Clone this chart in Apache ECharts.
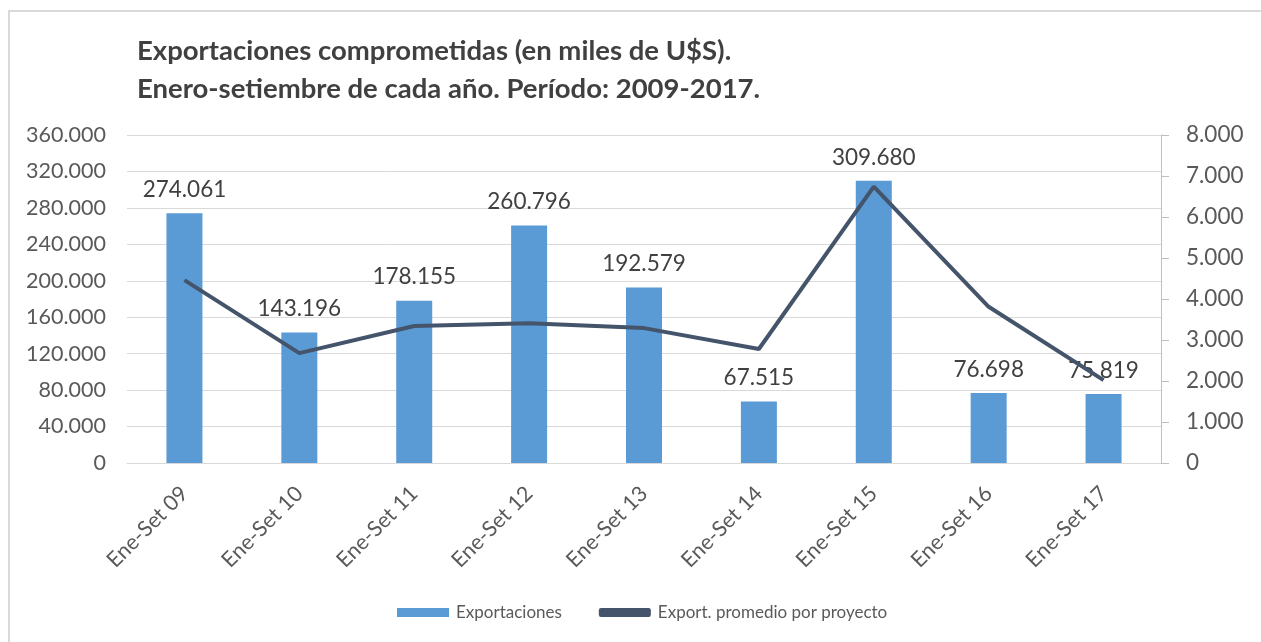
<!DOCTYPE html>
<html>
<head>
<meta charset="utf-8">
<script src="https://cdn.jsdelivr.net/npm/echarts@6/dist/echarts.min.js"></script>
<style>
html,body{margin:0;padding:0;background:#fff;}
#c{width:1261px;height:642px;}
</style>
</head>
<body>
<div id="c"></div>
<script>
var categories = ['Ene-Set 09','Ene-Set 10','Ene-Set 11','Ene-Set 12','Ene-Set 13','Ene-Set 14','Ene-Set 15','Ene-Set 16','Ene-Set 17'];
var exportaciones = [274061, 143196, 178155, 260796, 192579, 67515, 309680, 76698, 75819];
var promedio = [4460, 2680, 3340, 3410, 3290, 2780, 6740, 3810, 2020];
var titleLines = ['Exportaciones comprometidas (en miles de U$S).', 'Enero-setiembre de cada año. Período: 2009-2017.'];
var seriesNames = ['Exportaciones', 'Export. promedio por proyecto'];

function fmt(v){
  return String(Math.round(v)).replace(/\B(?=(\d{3})+(?!\d))/g, '.');
}
var FONT = 'Lato';
var chart = echarts.init(document.getElementById('c'));
chart.setOption({
  animation: false,
  backgroundColor: '#fff',
  textStyle: {fontFamily: FONT},
  graphic: [{
    type: 'polyline', silent: true,
    shape: {points: [[9, 642], [9, 11], [1261, 11]]},
    style: {stroke: '#d9d9d9', lineWidth: 2, fill: null}
  }],
  title: {
    text: titleLines.join('\n'),
    left: 132, top: 27,
    textStyle: {fontFamily: FONT, fontWeight: 'bold', fontSize: 27.5, color: '#404040', lineHeight: 38}
  },
  legend: {
    bottom: 16, left: 392,
    itemGap: 37, itemWidth: 52, itemHeight: 9,
    textStyle: {fontFamily: FONT, fontSize: 17, color: '#595959', padding: [0, 0, 0, 2]},
    data: [
      {name: seriesNames[0], icon: 'rect'},
      {name: seriesNames[1], icon: 'roundRect', itemStyle: {color: '#44546a'}}
    ]
  },
  grid: {left: 127, right: 100, top: 135, bottom: 179},
  xAxis: {
    type: 'category', data: categories,
    axisLine: {lineStyle: {color: '#d9d9d9', width: 1}},
    axisTick: {show: false},
    axisLabel: {rotate: 45, fontSize: 21.5, color: '#595959', margin: 27, fontFamily: FONT, interval: 0}
  },
  yAxis: [{
    type: 'value', min: 0, max: 360000, interval: 40000,
    axisLine: {show: false}, axisTick: {show: false},
    splitLine: {lineStyle: {color: '#d9d9d9'}},
    axisLabel: {fontSize: 21.5, color: '#595959', margin: 21, formatter: fmt, fontFamily: FONT}
  }, {
    type: 'value', min: 0, max: 8000, interval: 1000, position: 'right',
    axisLine: {show: true, lineStyle: {color: '#bfbfbf'}},
    axisTick: {show: true, length: 8, lineStyle: {color: '#bfbfbf'}},
    splitLine: {show: false},
    axisLabel: {fontSize: 22.5, color: '#595959', margin: 25, formatter: fmt, fontFamily: FONT}
  }],
  series: [{
    name: seriesNames[0], type: 'bar', data: exportaciones,
    barWidth: 36,
    itemStyle: {color: '#5b9bd5'},
    label: {show: true, position: 'top', distance: 12, formatter: function(p){return fmt(p.value);},
      fontSize: 22.5, color: '#404040', fontFamily: FONT}
  }, {
    name: seriesNames[1], type: 'line', yAxisIndex: 1, data: promedio,
    symbol: 'none', z: 5,
    lineStyle: {color: '#44546a', width: 4},
    itemStyle: {color: '#44546a'}
  }]
});
</script>
</body>
</html>
